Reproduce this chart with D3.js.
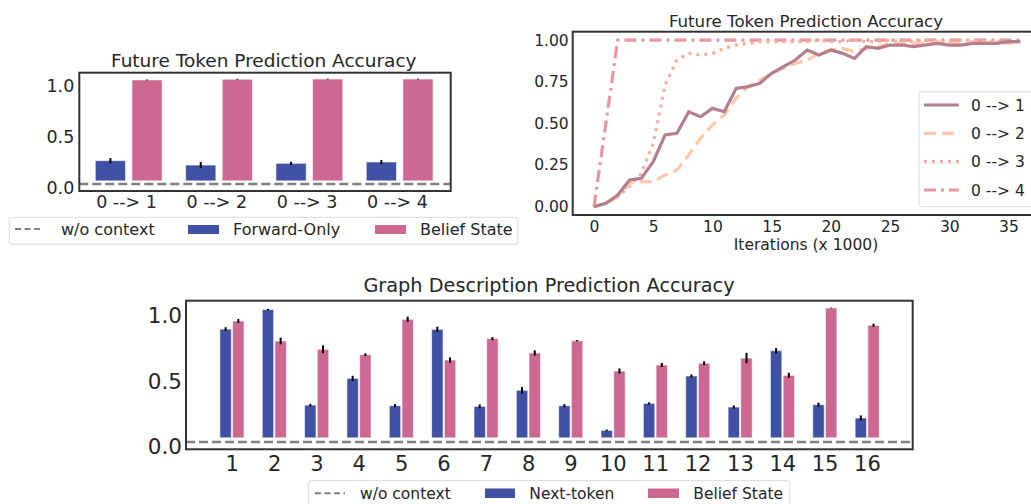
<!DOCTYPE html>
<meta charset="utf-8">
<style>
body { margin: 0; background: #fff; }
text { font-family: "DejaVu Sans", sans-serif; fill: #262626; }
</style>
<body>
<svg id="chart" width="1031" height="504"></svg>

<script src="https://d3js.org/d3.v7.min.js"></script>
<script>
// ---- data: future token accuracy (bars, top left) ----
var pairs = ["0 --> 1", "0 --> 2", "0 --> 3", "0 --> 4"];
var forwardOnly = [0.268, 0.225, 0.242, 0.255];
var forwardErr  = [0.025, 0.03, 0.015, 0.02];
var beliefPair  = [1.059, 1.066, 1.068, 1.068];
var beliefPairErr = [0.004, 0.004, 0.004, 0.004];
var noContextTop = 0.04;

// ---- data: learning curves (top right) ----
var iters = [0,1,2,3,4,5,6,7,8,9,10,11,12,13,14,15,16,17,18,19,20,21,22,23,24,25,26,27,28,29,30,31,32,33,34,35,36];
var acc01 = [0,0.02,0.07,0.16,0.17,0.27,0.43,0.44,0.57,0.54,0.59,0.57,0.71,0.72,0.74,0.80,0.84,0.88,0.94,0.91,0.94,0.92,0.89,0.96,0.95,0.97,0.97,0.96,0.97,0.98,0.97,0.97,0.98,0.98,0.98,0.99,0.99];
var acc02 = [0,0.02,0.06,0.14,0.15,0.15,0.19,0.22,0.31,0.41,0.49,0.55,0.65,0.72,0.76,0.80,0.83,0.86,0.88,0.92,0.94,0.95,0.93,0.95,0.96,0.98,0.98,0.98,0.98,0.99,0.98,0.98,0.99,0.98,0.99,0.98,0.99];
var acc03 = [0,0.02,0.06,0.12,0.20,0.38,0.73,0.88,0.92,0.91,0.92,0.95,0.97,0.98,0.99,0.99,0.99,0.99,0.99,1.0,0.99,0.99,1.0,0.99,0.99,1.0,0.99,0.99,1.0,0.99,0.99,0.99,1.0,0.99,0.99,0.99,0.99];
var acc04 = [0,0.5,1.0,1.0,1.0,1.0,1.0,1.0,1.0,1.0,1.0,1.0,1.0,1.0,1.0,1.0,1.0,1.0,1.0,1.0,1.0,1.0,1.0,1.0,1.0,1.0,1.0,1.0,1.0,1.0,1.0,1.0,1.0,1.0,1.0,1.0,1.0];
var curveNames = ["0 --> 1", "0 --> 2", "0 --> 3", "0 --> 4"];

// ---- data: graph description accuracy (bottom) ----
var positions = [1,2,3,4,5,6,7,8,9,10,11,12,13,14,15,16];
var nextToken    = [0.90,1.05,0.32,0.524,0.315,0.898,0.31,0.433,0.315,0.127,0.333,0.542,0.305,0.735,0.323,0.221];
var nextTokenErr = [0.015,0.005,0.01,0.02,0.012,0.02,0.015,0.025,0.012,0.006,0.008,0.012,0.012,0.02,0.015,0.02];
var beliefState    = [0.962,0.809,0.746,0.705,0.975,0.664,0.827,0.718,0.811,0.58,0.626,0.639,0.679,0.547,1.061,0.929];
var beliefStateErr = [0.015,0.025,0.03,0.01,0.02,0.02,0.012,0.02,0.005,0.02,0.015,0.015,0.04,0.02,0.003,0.012];
var noContextGraph = 0.038;

var barBase = 0.07;  // bars start a bit above zero in the original

var BLUE = "#4051a3", PINK = "#cd6892", GREY = "#808080", EDGE = "#333";

var svg = d3.select("#chart");
svg.append("rect").attr("width", 1031).attr("height", 504).attr("fill", "#fff");

function box(g, x, y) {
  var r = x.range(), s = y.range();
  g.append("rect")
    .attr("x", r[0]).attr("y", s[1])
    .attr("width", r[1] - r[0]).attr("height", s[0] - s[1])
    .attr("fill", "none").attr("stroke", EDGE).attr("stroke-width", 2);
}

function styleAxis(sel, size) {
  sel.select(".domain").remove();
  sel.selectAll("text").style("font-size", size + "px").attr("fill", "#262626");
}

function legendBox(g, x0, y0, w, h) {
  g.append("rect").attr("x", x0).attr("y", y0).attr("width", w).attr("height", h)
    .attr("rx", 3).attr("fill", "#fff").attr("stroke", "#d9d9d9").attr("stroke-width", 1);
}

// ================= top left =================
(function () {
  var g = svg.append("g");
  var x = d3.scaleLinear().domain([-0.517, 3.595]).range([79.3, 450.7]);
  var y = d3.scaleLinear().domain([-0.0294, 1.13]).range([191, 72.7]);

  g.append("line")
    .attr("x1", x.range()[0]).attr("x2", x.range()[1])
    .attr("y1", y(noContextTop)).attr("y2", y(noContextTop))
    .attr("stroke", GREY).attr("stroke-width", 2.5).attr("stroke-dasharray", "9,4");

  var idx = d3.range(pairs.length);
  g.selectAll(".fo").data(idx).enter().append("rect")
    .attr("x", function (i) { return x(i - 0.34); })
    .attr("width", function (i) { return x(i - 0.005) - x(i - 0.34); })
    .attr("y", function (i) { return y(forwardOnly[i]); })
    .attr("height", function (i) { return y(barBase) - y(forwardOnly[i]); })
    .attr("fill", BLUE).attr("stroke", "#fff").attr("stroke-opacity", 0.6).attr("stroke-width", 1);
  g.selectAll(".bs").data(idx).enter().append("rect")
    .attr("x", function (i) { return x(i + 0.065); })
    .attr("width", function (i) { return x(i + 0.4) - x(i + 0.065); })
    .attr("y", function (i) { return y(beliefPair[i]); })
    .attr("height", function (i) { return y(barBase) - y(beliefPair[i]); })
    .attr("fill", PINK).attr("stroke", "#fff").attr("stroke-opacity", 0.6).attr("stroke-width", 1);

  g.selectAll(".efo").data(idx).enter().append("line")
    .attr("x1", function (i) { return x(i - 0.1725); }).attr("x2", function (i) { return x(i - 0.1725); })
    .attr("y1", function (i) { return y(forwardOnly[i] - forwardErr[i]); })
    .attr("y2", function (i) { return y(forwardOnly[i] + forwardErr[i]); })
    .attr("stroke", "#000").attr("stroke-width", 2);
  g.selectAll(".ebs").data(idx).enter().append("line")
    .attr("x1", function (i) { return x(i + 0.2325); }).attr("x2", function (i) { return x(i + 0.2325); })
    .attr("y1", function (i) { return y(beliefPair[i] - beliefPairErr[i]); })
    .attr("y2", function (i) { return y(beliefPair[i] + beliefPairErr[i]); })
    .attr("stroke", "#000").attr("stroke-width", 2);

  box(g, x, y);

  g.append("g").attr("transform", "translate(79.3,0)")
    .call(d3.axisLeft(y).tickValues([0, 0.5, 1]).tickFormat(d3.format(".1f")).tickSize(0).tickPadding(5))
    .call(styleAxis, 17.5);
  g.append("g").attr("transform", "translate(0,191)")
    .call(d3.axisBottom(x).tickValues(idx).tickFormat(function (i) { return pairs[i]; }).tickSize(0).tickPadding(5))
    .call(styleAxis, 17.5);

  g.append("text").attr("x", 263.8).attr("y", 67).attr("text-anchor", "middle")
    .style("font-size", "18.5px").text("Future Token Prediction Accuracy");

  // legend
  legendBox(g, 9.3, 217.3, 508.7, 27);
  g.append("line").attr("x1", 15).attr("x2", 43).attr("y1", 229).attr("y2", 229)
    .attr("stroke", GREY).attr("stroke-width", 2).attr("stroke-dasharray", "6,3.5");
  g.append("text").attr("x", 61).attr("y", 234.5).style("font-size", "16px").text("w/o context");
  g.append("rect").attr("x", 188).attr("y", 225).attr("width", 31).attr("height", 9).attr("fill", BLUE);
  g.append("text").attr("x", 233).attr("y", 234.5).style("font-size", "16px").text("Forward-Only");
  g.append("rect").attr("x", 375).attr("y", 225).attr("width", 31).attr("height", 9).attr("fill", PINK);
  g.append("text").attr("x", 420).attr("y", 234.5).style("font-size", "16px").text("Belief State");
})();

// ================= top right =================
(function () {
  var g = svg.append("g");
  var x = d3.scaleLinear().domain([-1.8, 37.8]).range([572.7, 1041.6]);
  var y = d3.scaleLinear().domain([-0.05, 1.05]).range([215, 31.7]);

  var series = [
    { name: curveNames[0], vals: acc01, color: "#b57e8d", dash: null },
    { name: curveNames[1], vals: acc02, color: "#ffc8a8", dash: "12,6" },
    { name: curveNames[2], vals: acc03, color: "#fbaa9c", dash: "3,5" },
    { name: curveNames[3], vals: acc04, color: "#e5989e", dash: "12,5,3,5" }
  ];
  var line = d3.line().x(function (d) { return x(d[0]); }).y(function (d) { return y(d[1]); });

  series.slice().reverse().forEach(function (s) {
    g.append("path")
      .attr("d", line(iters.map(function (t, i) { return [t, s.vals[i]]; })))
      .attr("fill", "none").attr("stroke", s.color).attr("stroke-width", 3.2)
      .attr("stroke-dasharray", s.dash);
  });

  box(g, x, y);

  g.append("g").attr("transform", "translate(572.7,0)")
    .call(d3.axisLeft(y).tickValues([0, 0.25, 0.5, 0.75, 1]).tickFormat(d3.format(".2f")).tickSize(0).tickPadding(4))
    .call(styleAxis, 15.5);
  g.append("g").attr("transform", "translate(0,215)")
    .call(d3.axisBottom(x).tickValues([0, 5, 10, 15, 20, 25, 30, 35]).tickSize(0).tickPadding(6))
    .call(styleAxis, 15.5);

  g.append("text").attr("x", 806).attr("y", 27.3).attr("text-anchor", "middle")
    .style("font-size", "16.6px").text("Future Token Prediction Accuracy");
  g.append("text").attr("x", 806).attr("y", 250).attr("text-anchor", "middle")
    .style("font-size", "15.5px").text("Iterations (x 1000)");

  legendBox(g, 919, 91.7, 130, 115);
  series.forEach(function (s, i) {
    var cy = 105 + i * 28.33;
    g.append("line").attr("x1", 924).attr("x2", 959).attr("y1", cy).attr("y2", cy)
      .attr("stroke", s.color).attr("stroke-width", 3.2).attr("stroke-dasharray", s.dash);
    g.append("text").attr("x", 971).attr("y", cy + 5.6).style("font-size", "15.5px").text(s.name);
  });
})();

// ================= bottom =================
(function () {
  var g = svg.append("g");
  var x = d3.scaleLinear().domain([-0.08, 17.08]).range([186, 912.7]);
  var y = d3.scaleLinear().domain([-0.0176, 1.117]).range([449.3, 300.7]);

  g.append("line")
    .attr("x1", x.range()[0]).attr("x2", x.range()[1])
    .attr("y1", y(noContextGraph)).attr("y2", y(noContextGraph))
    .attr("stroke", GREY).attr("stroke-width", 2.5).attr("stroke-dasharray", "9,4");

  var idx = d3.range(positions.length);
  g.selectAll(".nt").data(idx).enter().append("rect")
    .attr("x", function (i) { return x(positions[i] - 0.28); })
    .attr("width", function (i) { return x(positions[i] - 0.01) - x(positions[i] - 0.28); })
    .attr("y", function (i) { return y(nextToken[i]); })
    .attr("height", function (i) { return y(barBase) - y(nextToken[i]); })
    .attr("fill", BLUE).attr("stroke", "#fff").attr("stroke-opacity", 0.6).attr("stroke-width", 1);
  g.selectAll(".bs").data(idx).enter().append("rect")
    .attr("x", function (i) { return x(positions[i] + 0.02); })
    .attr("width", function (i) { return x(positions[i] + 0.29) - x(positions[i] + 0.02); })
    .attr("y", function (i) { return y(beliefState[i]); })
    .attr("height", function (i) { return y(barBase) - y(beliefState[i]); })
    .attr("fill", PINK).attr("stroke", "#fff").attr("stroke-opacity", 0.6).attr("stroke-width", 1);

  g.selectAll(".ent").data(idx).enter().append("line")
    .attr("x1", function (i) { return x(positions[i] - 0.145); }).attr("x2", function (i) { return x(positions[i] - 0.145); })
    .attr("y1", function (i) { return y(nextToken[i] - nextTokenErr[i]); })
    .attr("y2", function (i) { return y(nextToken[i] + nextTokenErr[i]); })
    .attr("stroke", "#000").attr("stroke-width", 2);
  g.selectAll(".ebs").data(idx).enter().append("line")
    .attr("x1", function (i) { return x(positions[i] + 0.155); }).attr("x2", function (i) { return x(positions[i] + 0.155); })
    .attr("y1", function (i) { return y(beliefState[i] - beliefStateErr[i]); })
    .attr("y2", function (i) { return y(beliefState[i] + beliefStateErr[i]); })
    .attr("stroke", "#000").attr("stroke-width", 2);

  box(g, x, y);

  g.append("g").attr("transform", "translate(186,0)")
    .call(d3.axisLeft(y).tickValues([0, 0.5, 1]).tickFormat(d3.format(".1f")).tickSize(0).tickPadding(4))
    .call(styleAxis, 21.5);
  g.append("g").attr("transform", "translate(0,449.3)")
    .call(d3.axisBottom(x).tickValues(positions).tickSize(0).tickPadding(7))
    .call(styleAxis, 21);

  g.append("text").attr("x", 549).attr("y", 292.3).attr("text-anchor", "middle")
    .style("font-size", "19.3px").text("Graph Description Prediction Accuracy");

  legendBox(g, 308.3, 480.7, 481.7, 30);
  g.append("line").attr("x1", 315).attr("x2", 345).attr("y1", 493.3).attr("y2", 493.3)
    .attr("stroke", GREY).attr("stroke-width", 2).attr("stroke-dasharray", "6,3.5");
  g.append("text").attr("x", 360).attr("y", 499).style("font-size", "15.5px").text("w/o context");
  g.append("rect").attr("x", 485).attr("y", 488.5).attr("width", 30).attr("height", 9.5).attr("fill", BLUE);
  g.append("text").attr("x", 529.3).attr("y", 499).style("font-size", "15.5px").text("Next-token");
  g.append("rect").attr("x", 648).attr("y", 488.5).attr("width", 31).attr("height", 9.5).attr("fill", PINK);
  g.append("text").attr("x", 693.3).attr("y", 499).style("font-size", "15.5px").text("Belief State");
})();
</script>
</body>
